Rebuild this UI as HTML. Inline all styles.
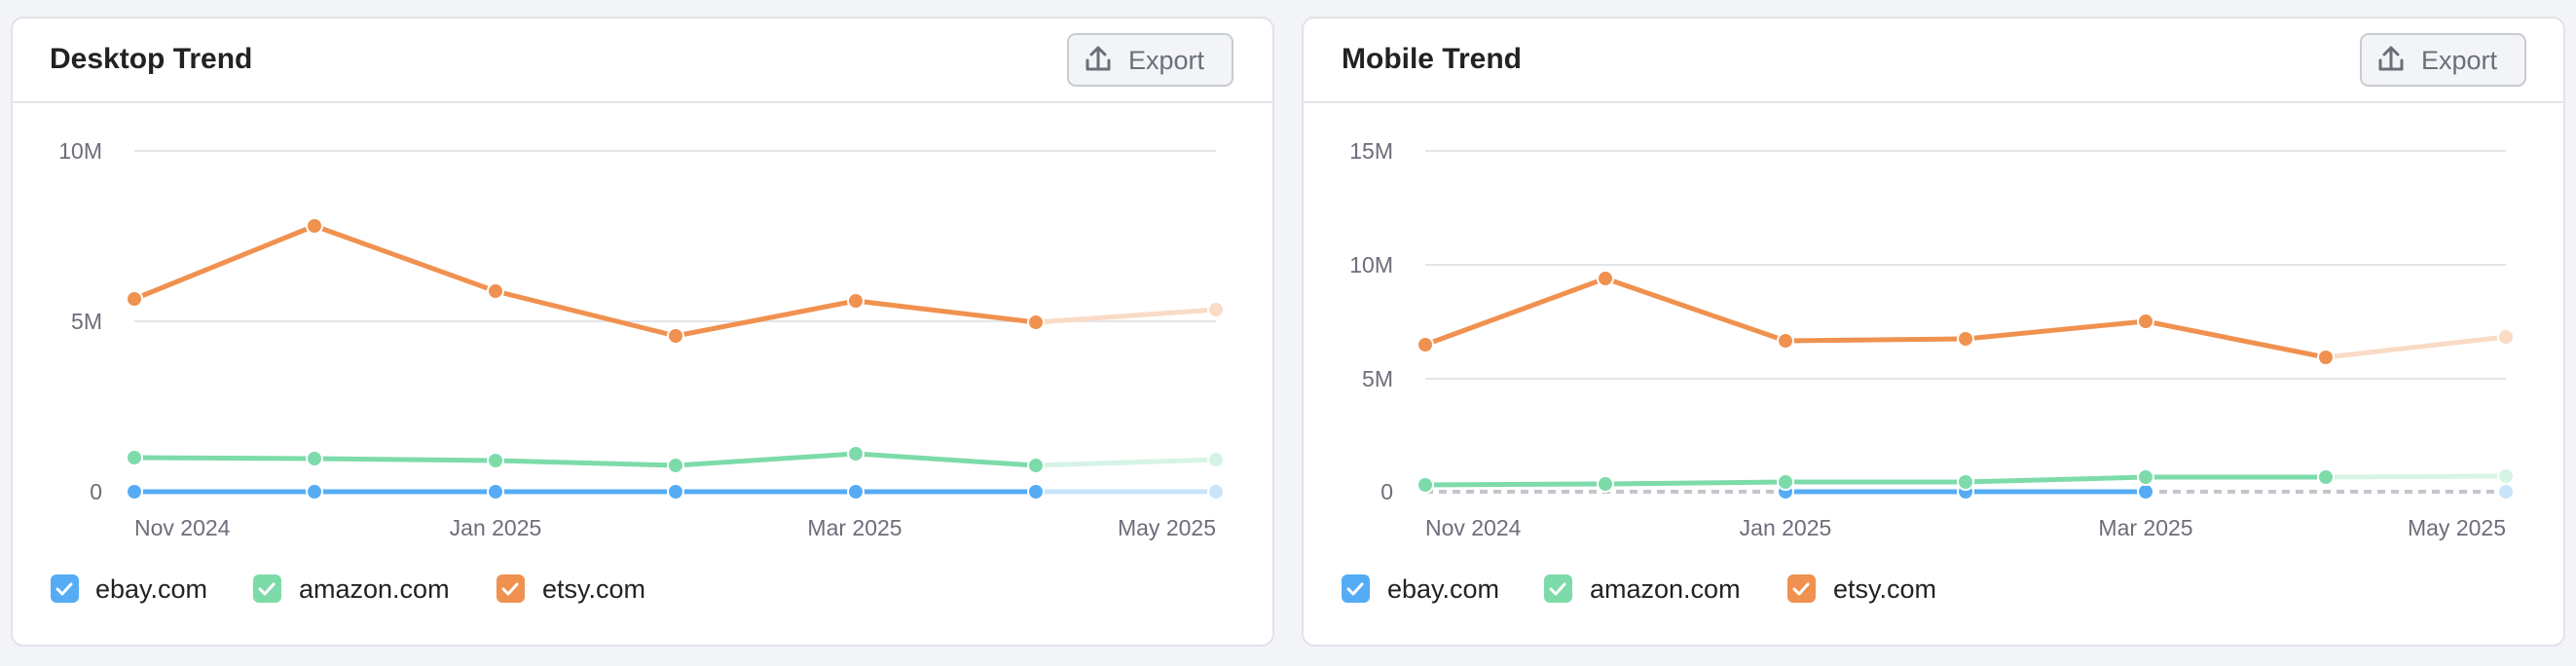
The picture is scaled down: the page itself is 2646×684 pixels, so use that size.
<!DOCTYPE html>
<html><head><meta charset="utf-8"><style>
html,body{margin:0;padding:0;background:#f3f4f8;}
svg{display:block;font-family:"Liberation Sans",Arial,sans-serif;}
</style></head><body>
<svg width="2646" height="684" viewBox="0 0 2646 684" xmlns="http://www.w3.org/2000/svg">
<rect width="2646" height="684" fill="#f3f4f8"/>
<defs>
<g id="exp">
  <rect x="0" y="0" width="169" height="53" rx="8" fill="#f3f4f8" stroke="#c9cbd3" stroke-width="2"/>
  <path d="M20 27 v9 h22 v-9 M31 34 v-19 M24 21 l7 -7 l7 7" fill="none" stroke="#6c6e79" stroke-width="3" stroke-linecap="round" stroke-linejoin="round"/>
  <text x="62" y="36" font-size="27" fill="#6c6e79">Export</text>
</g>
<g id="chk"><path d="M7 15 l5 5 l9 -10" fill="none" stroke="#fff" stroke-width="3" stroke-linecap="round" stroke-linejoin="round"/></g>
</defs>

<!-- LEFT CARD -->
<rect x="12" y="18" width="1296" height="645" rx="12" fill="#fff" stroke="#e2e3e9" stroke-width="2"/>
<line x1="12" y1="105" x2="1308" y2="105" stroke="#e2e3e9" stroke-width="2"/>
<text x="51" y="70" font-size="30" font-weight="bold" fill="#222">Desktop Trend</text>
<use href="#exp" x="1097" y="35"/>
<g stroke="#e4e5ea" stroke-width="2"><line x1="138" y1="155" x2="1249" y2="155"/><line x1="138" y1="330" x2="1249" y2="330"/></g>
<g font-size="23" fill="#6c6e79" text-anchor="end"><text x="105" y="163">10M</text><text x="105" y="338">5M</text><text x="105" y="513">0</text></g>
<g font-size="23" fill="#6c6e79"><text x="138" y="550">Nov 2024</text><text x="509" y="550" text-anchor="middle">Jan 2025</text><text x="878" y="550" text-anchor="middle">Mar 2025</text><text x="1249" y="550" text-anchor="end">May 2025</text></g>
<g fill="none" stroke-width="5" stroke-linejoin="round">
<polyline points="138,505 323,505 509,505 694,505 879,505 1064,505" stroke="#55acf5"/>
<polyline points="1064,505 1249,505" stroke="#c8e4fa"/>
<polyline points="138,470 323,471 509,473 694,478 879,466 1064,478" stroke="#7ddbaa"/>
<polyline points="1064,478 1249,472" stroke="#d6f4e5"/>
<polyline points="138,307 323,232 509,299 694,345 879,309 1064,331" stroke="#f0914f"/>
<polyline points="1064,331 1249,318" stroke="#fadbc5"/>
</g>
<g stroke="#fff" stroke-width="2">
<g fill="#55acf5"><circle cx="138" cy="505" r="8"/><circle cx="323" cy="505" r="8"/><circle cx="509" cy="505" r="8"/><circle cx="694" cy="505" r="8"/><circle cx="879" cy="505" r="8"/><circle cx="1064" cy="505" r="8"/></g>
<circle cx="1249" cy="505" r="8" fill="#c8e4fa"/>
<g fill="#7ddbaa"><circle cx="138" cy="470" r="8"/><circle cx="323" cy="471" r="8"/><circle cx="509" cy="473" r="8"/><circle cx="694" cy="478" r="8"/><circle cx="879" cy="466" r="8"/><circle cx="1064" cy="478" r="8"/></g>
<circle cx="1249" cy="472" r="8" fill="#d6f4e5"/>
<g fill="#f0914f"><circle cx="138" cy="307" r="8"/><circle cx="323" cy="232" r="8"/><circle cx="509" cy="299" r="8"/><circle cx="694" cy="345" r="8"/><circle cx="879" cy="309" r="8"/><circle cx="1064" cy="331" r="8"/></g>
<circle cx="1249" cy="318" r="8" fill="#fadbc5"/>
</g>
<g font-size="27" fill="#222">
<rect x="52" y="590" width="29" height="29" rx="6" fill="#55acf5"/><use href="#chk" x="52" y="590"/><text x="98" y="614">ebay.com</text>
<rect x="260" y="590" width="29" height="29" rx="6" fill="#7ddbaa"/><use href="#chk" x="260" y="590"/><text x="307" y="614">amazon.com</text>
<rect x="510" y="590" width="29" height="29" rx="6" fill="#f0914f"/><use href="#chk" x="510" y="590"/><text x="557" y="614">etsy.com</text>
</g>

<!-- RIGHT CARD -->
<rect x="1338" y="18" width="1296" height="645" rx="12" fill="#fff" stroke="#e2e3e9" stroke-width="2"/>
<line x1="1338" y1="105" x2="2634" y2="105" stroke="#e2e3e9" stroke-width="2"/>
<text x="1378" y="70" font-size="30" font-weight="bold" fill="#222">Mobile Trend</text>
<use href="#exp" x="2425" y="35"/>
<g stroke="#e4e5ea" stroke-width="2"><line x1="1464" y1="155" x2="2574" y2="155"/><line x1="1464" y1="272" x2="2574" y2="272"/><line x1="1464" y1="389" x2="2574" y2="389"/></g>
<g font-size="23" fill="#6c6e79" text-anchor="end"><text x="1431" y="163">15M</text><text x="1431" y="280">10M</text><text x="1431" y="397">5M</text><text x="1431" y="513">0</text></g>
<g font-size="23" fill="#6c6e79"><text x="1464" y="550">Nov 2024</text><text x="1834" y="550" text-anchor="middle">Jan 2025</text><text x="2204" y="550" text-anchor="middle">Mar 2025</text><text x="2574" y="550" text-anchor="end">May 2025</text></g>
<g fill="none" stroke-width="5" stroke-linejoin="round">
<line x1="1464" y1="505" x2="1834" y2="505" stroke="#c4c5cc" stroke-width="4" stroke-dasharray="8 6"/>
<line x1="2204" y1="505" x2="2574" y2="505" stroke="#c4c5cc" stroke-width="4" stroke-dasharray="8 6"/>
<polyline points="1834,505 2019,505 2204,505" stroke="#55acf5"/>
<polyline points="1464,498 1649,497 1834,495 2019,495 2204,490 2389,490" stroke="#7ddbaa"/>
<polyline points="2389,490 2574,489" stroke="#d6f4e5"/>
<polyline points="1464,354 1649,286 1834,350 2019,348 2204,330 2389,367" stroke="#f0914f"/>
<polyline points="2389,367 2574,346" stroke="#fadbc5"/>
</g>
<g stroke="#fff" stroke-width="2">
<g fill="#55acf5"><circle cx="1834" cy="505" r="8"/><circle cx="2019" cy="505" r="8"/><circle cx="2204" cy="505" r="8"/></g>
<circle cx="2574" cy="505" r="8" fill="#c8e4fa"/>
<g fill="#7ddbaa"><circle cx="1464" cy="498" r="8"/><circle cx="1649" cy="497" r="8"/><circle cx="1834" cy="495" r="8"/><circle cx="2019" cy="495" r="8"/><circle cx="2204" cy="490" r="8"/><circle cx="2389" cy="490" r="8"/></g>
<circle cx="2574" cy="489" r="8" fill="#d6f4e5"/>
<g fill="#f0914f"><circle cx="1464" cy="354" r="8"/><circle cx="1649" cy="286" r="8"/><circle cx="1834" cy="350" r="8"/><circle cx="2019" cy="348" r="8"/><circle cx="2204" cy="330" r="8"/><circle cx="2389" cy="367" r="8"/></g>
<circle cx="2574" cy="346" r="8" fill="#fadbc5"/>
</g>
<g font-size="27" fill="#222">
<rect x="1378" y="590" width="29" height="29" rx="6" fill="#55acf5"/><use href="#chk" x="1378" y="590"/><text x="1425" y="614">ebay.com</text>
<rect x="1586" y="590" width="29" height="29" rx="6" fill="#7ddbaa"/><use href="#chk" x="1586" y="590"/><text x="1633" y="614">amazon.com</text>
<rect x="1836" y="590" width="29" height="29" rx="6" fill="#f0914f"/><use href="#chk" x="1836" y="590"/><text x="1883" y="614">etsy.com</text>
</g>
</svg>
</body></html>
